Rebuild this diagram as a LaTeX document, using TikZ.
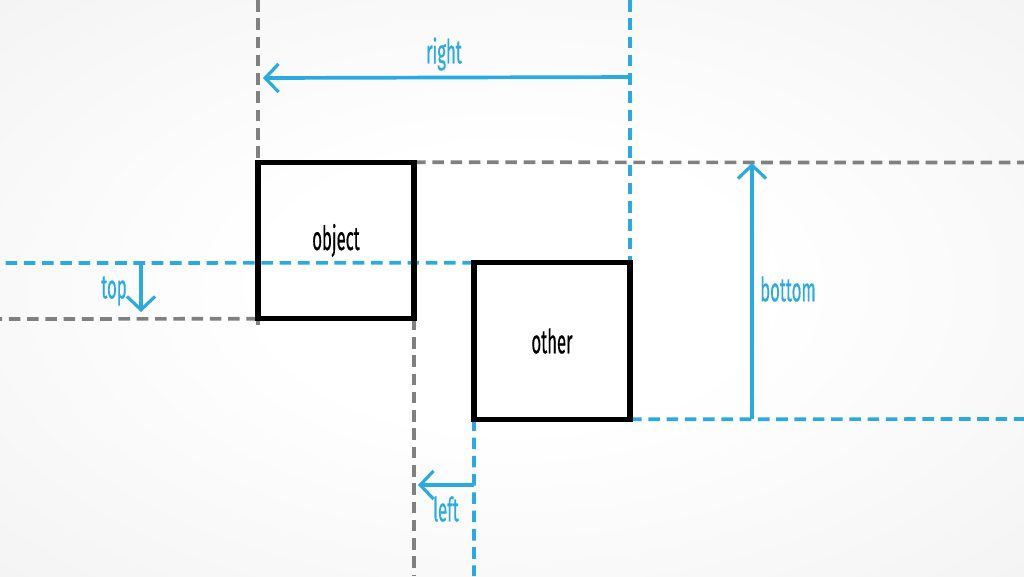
\documentclass[tikz,border=0pt]{standalone}
\usepackage{fontspec}
\setmainfont{Fira Sans}
\newfontfamily\lblfont[FakeBold=0.6]{Fira Sans}
\usetikzlibrary{arrows.meta}
\definecolor{cblue}{HTML}{29ABE2}
\definecolor{cgray}{HTML}{808080}
\pgfdeclareradialshading{bgshade}{\pgfpoint{0bp}{0bp}}{color(0bp)=(white); color(12bp)=(white); color(50bp)=(black!7); color(72bp)=(black!9); color(100bp)=(black!9)}
\newcommand{\lbl}[1]{\scalebox{0.5}[1]{#1}}
\tikzset{
  graydash/.style={draw=cgray, line width=1.05pt, dash pattern=on 3.3pt off 1.9pt},
  bluedash/.style={draw=cblue, line width=1.05pt, dash pattern=on 3.3pt off 1.9pt},
  measure/.style={draw=cblue, line width=1.05pt, -{Straight Barb[length=3.8pt,width=8pt,line width=0.9pt]}},
  box/.style={draw=black, line width=1.45pt, inner sep=0pt, outer sep=0pt, minimum width=1.56cm, minimum height=1.565cm, font=\lblfont\fontsize{9.5}{11}\selectfont},
  bluelbl/.style={text=cblue, font=\lblfont\fontsize{9.5}{11}\selectfont, inner sep=0pt}
}
\begin{document}
\begin{tikzpicture}
\useasboundingbox (0,0) rectangle (10.24,-5.76);
\shade[shading=bgshade] (0,0) rectangle (10.24,-5.76);
% boxes
\node[box] (obj) at (3.36,-2.405) {\lbl{object}};
\node[box] (oth) at (5.52,-3.41) {\lbl{other}};
% edge coordinates
\coordinate (gtop) at (2.58,0);
\coordinate (gbot) at (2.58,-3.25);
\coordinate (gright) at (10.24,-1.625);
\coordinate (gleft) at (0,-3.19);
\coordinate (gdown) at (4.14,-5.76);
\coordinate (btop) at (6.30,0);
\coordinate (bleft) at (0,-2.63);
\coordinate (bright) at (10.24,-4.19);
\coordinate (bdown) at (4.74,-5.76);
% gray dashed lines (object)
\draw[graydash] (gtop) -- (obj.north west);
\draw[graydash] (obj.south west) -- (gbot);
\draw[graydash] (obj.north east) -- (gright);
\draw[graydash] (obj.south west) -- (gleft);
\draw[graydash] (obj.south east) -- (gdown);
% blue dashed lines (other)
\draw[bluedash] (btop) -- (oth.north east);
\draw[bluedash] (oth.north west) -- (bleft);
\draw[bluedash] (oth.south east) -- (bright);
\draw[bluedash] (oth.south west) -- (bdown);
% measure arrows
\coordinate (rS) at (6.30,-0.77);
\coordinate (rE) at (2.63,-0.78);
\draw[measure] (rS) -- (rE);
\node[bluelbl] (rl) at (4.44,-0.54) {\lbl{right}};
\coordinate (tS) at (1.41,-2.63);
\coordinate (tE) at (1.41,-3.12);
\draw[measure] (tS) -- (tE);
\node[bluelbl] (tl) at (1.14,-2.91) {\lbl{top}};
\coordinate (bS) at (7.52,-4.19);
\coordinate (bE) at (7.52,-1.63);
\draw[measure] (bS) -- (bE);
\node[bluelbl] (bl) at (7.88,-2.89) {\lbl{bottom}};
\coordinate (lS) at (4.74,-4.85);
\coordinate (lE) at (4.18,-4.85);
\draw[measure] (lS) -- (lE);
\node[bluelbl] (ll) at (4.46,-5.09) {\lbl{left}};
% redraw boxes on top
\node[box] at (obj) {};
\node[box] at (oth) {};
\end{tikzpicture}
\end{document}
